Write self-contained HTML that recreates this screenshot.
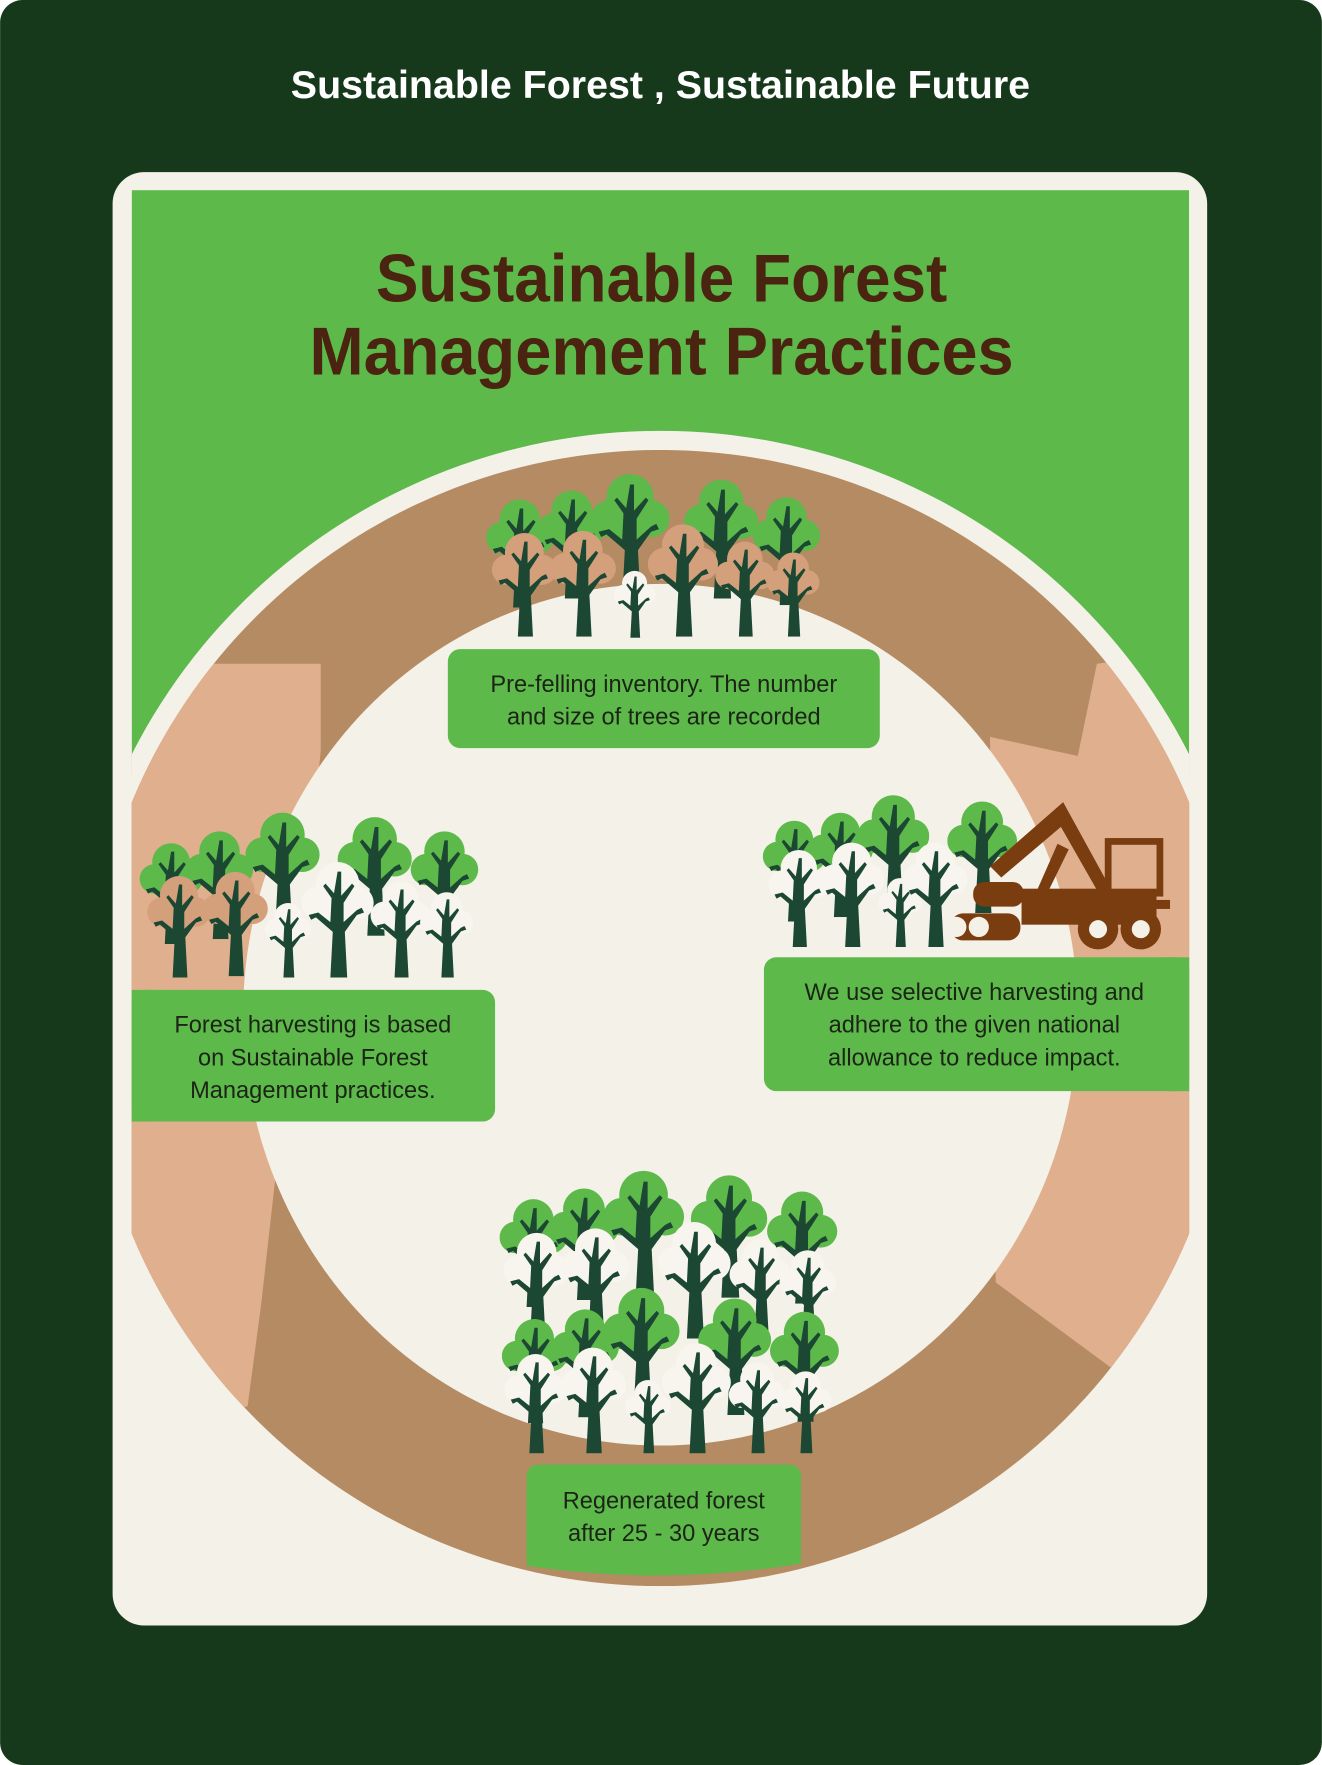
<!DOCTYPE html>
<html><head><meta charset="utf-8"><style>
html,body{margin:0;padding:0;background:#fff;}
svg{display:block;}
text{font-family:"Liberation Sans",sans-serif;}
</style></head><body>
<svg width="1322" height="1765" viewBox="0 0 1175 1569" xmlns="http://www.w3.org/2000/svg">
<defs>
  <symbol id="trunk" viewBox="0 0 60 100">
    <path d="M24 100 L26 62 L12 50 L8 52 L6 48 L14 46 L24 54 L25 34 L18 24 L20 22 L27 30 L30 12 L33 12 L33 32 L42 22 L44 24 L35 38 L35 54 L46 44 L50 42 L52 46 L46 48 L36 62 L38 100 Z" fill="#1b4733"/>
  </symbol>
  <symbol id="tg" viewBox="0 0 60 100">
    <circle cx="30" cy="22" r="18" fill="#5cb94a"/><circle cx="14" cy="38" r="14" fill="#5cb94a"/><circle cx="46" cy="38" r="14" fill="#5cb94a"/><circle cx="30" cy="45" r="15" fill="#5cb94a"/>
    <use href="#trunk" x="0" y="0" width="60" height="100"/>
  </symbol>
  <symbol id="tb" viewBox="0 0 60 100">
    <circle cx="30" cy="22" r="18" fill="#d4a07c"/><circle cx="14" cy="38" r="14" fill="#d4a07c"/><circle cx="46" cy="38" r="14" fill="#d4a07c"/><circle cx="30" cy="45" r="15" fill="#d4a07c"/>
    <use href="#trunk" x="0" y="0" width="60" height="100"/>
  </symbol>
  <symbol id="tw" viewBox="0 0 60 100">
    <circle cx="30" cy="22" r="18" fill="#f7f5ee"/><circle cx="14" cy="38" r="14" fill="#f7f5ee"/><circle cx="46" cy="38" r="14" fill="#f7f5ee"/><circle cx="30" cy="45" r="15" fill="#f7f5ee"/>
    <use href="#trunk" x="0" y="0" width="60" height="100"/>
  </symbol>
  <clipPath id="card"><rect x="117" y="169" width="940" height="1260"/></clipPath>
  <clipPath id="ring"><path fill-rule="evenodd" d="M79 905 A508 505 0 1 0 1095 905 A508 505 0 1 0 79 905 Z M216 902 A371 383 0 1 0 958 902 A371 383 0 1 0 216 902 Z"/></clipPath>
</defs>
<rect x="0" y="0" width="1175" height="1569" rx="20" fill="#17391b"/>
<text x="587" y="87" font-size="35" font-weight="bold" fill="#fff" text-anchor="middle">Sustainable Forest , Sustainable Future</text>
<rect x="100" y="153" width="973" height="1292" rx="28" fill="#f4f1e8"/>
<g clip-path="url(#card)">
  <rect x="117" y="169" width="940" height="520" fill="#5cb94a"/>
  <ellipse cx="587" cy="905" rx="526" ry="522" fill="#f4f1e8"/>
  <g clip-path="url(#ring)">
    <rect x="0" y="300" width="1175" height="1200" fill="#b58b64"/>
    <polygon points="60,590 285,590 285,668 250,1000 232,1160 220,1250 60,1300" fill="#e0b08e"/>
    <polygon points="975,590 958,672 880,655 885,1140 1000,1225 1200,1225 1200,560" fill="#e0b08e"/>
  </g>
  <ellipse cx="587" cy="902" rx="371" ry="383" fill="#f4f1e8"/>
</g>
<text x="588" y="268" font-size="60" font-weight="bold" fill="#4a2410" text-anchor="middle" textLength="508" lengthAdjust="spacingAndGlyphs">Sustainable  Forest</text>
<text x="588" y="333" font-size="60" font-weight="bold" fill="#4a2410" text-anchor="middle" textLength="626" lengthAdjust="spacingAndGlyphs">Management  Practices</text>

<!-- top trees -->
<g>
  <use href="#tg" x="432" y="440" width="60" height="100"/>
  <use href="#tg" x="478" y="432" width="60" height="100"/>
  <use href="#tg" x="525" y="415" width="70" height="120"/>
  <use href="#tg" x="608" y="422" width="66" height="110"/>
  <use href="#tg" x="668" y="438" width="62" height="100"/>
  <use href="#tb" x="436" y="470" width="60" height="96"/>
  <use href="#tb" x="488" y="468" width="60" height="98"/>
  <use href="#tw" x="540" y="505" width="48" height="62"/>
  <use href="#tb" x="572" y="462" width="70" height="104"/>
  <use href="#tb" x="635" y="478" width="54" height="88"/>
  <use href="#tb" x="680" y="488" width="50" height="78"/>
</g>
<rect x="398" y="577" width="384" height="88" rx="11" fill="#5cb94a"/>
<text x="590" y="615" font-size="21" fill="#1c2416" text-anchor="middle">Pre-felling inventory. The number</text>
<text x="590" y="644" font-size="21" fill="#1c2416" text-anchor="middle">and size of trees are recorded</text>

<!-- left trees -->
<g>
  <use href="#tg" x="124" y="745" width="56" height="95"/>
  <use href="#tg" x="165" y="735" width="60" height="100"/>
  <use href="#tg" x="218" y="718" width="66" height="110"/>
  <use href="#tg" x="300" y="722" width="66" height="110"/>
  <use href="#tg" x="364" y="735" width="62" height="100"/>
  <use href="#tb" x="128" y="775" width="62" height="94"/>
  <use href="#tb" x="180" y="770" width="58" height="99"/>
  <use href="#tw" x="232" y="800" width="48" height="69"/>
  <use href="#tw" x="265" y="762" width="70" height="107"/>
  <use href="#tw" x="328" y="780" width="56" height="89"/>
  <use href="#tw" x="372" y="790" width="50" height="79"/>
</g>
<rect x="117" y="880" width="323" height="117" rx="11" fill="#5cb94a"/>
<rect x="117" y="880" width="20" height="117" fill="#5cb94a"/>
<text x="278" y="918" font-size="21" fill="#1c2416" text-anchor="middle">Forest harvesting is based</text>
<text x="278" y="947" font-size="21" fill="#1c2416" text-anchor="middle">on Sustainable Forest</text>
<text x="278" y="976" font-size="21" fill="#1c2416" text-anchor="middle">Management practices.</text>

<!-- right trees + harvester -->
<g>
  <use href="#tg" x="678" y="725" width="56" height="95"/>
  <use href="#tg" x="718" y="718" width="58" height="98"/>
  <use href="#tg" x="762" y="702" width="64" height="108"/>
  <use href="#tg" x="842" y="708" width="62" height="104"/>
  <use href="#tw" x="680" y="752" width="60" height="90"/>
  <use href="#tw" x="728" y="745" width="58" height="97"/>
  <use href="#tw" x="778" y="778" width="44" height="64"/>
  <use href="#tw" x="802" y="745" width="58" height="97"/>
</g>
<g fill="#7a3d10">
  <rect x="908" y="790" width="120" height="32"/>
  <rect x="985" y="748" width="46" height="46" fill="none" stroke="#7a3d10" stroke-width="6"/>
  <path d="M880 770 L945 713 L990 795 L980 800 L943 735 L890 780 Z"/>
  <path d="M940 750 L918 800 L926 804 L950 755 Z"/>
  <rect x="865" y="784" width="45" height="22" rx="10"/>
  <rect x="845" y="812" width="62" height="24" rx="11"/>
  <circle cx="850" cy="824" r="9" fill="#f4f1e8"/>
  <circle cx="870" cy="824" r="9" fill="#f4f1e8"/>
  <circle cx="976" cy="826" r="18"/><circle cx="976" cy="826" r="8" fill="#f4f1e8"/>
  <circle cx="1014" cy="826" r="18"/><circle cx="1014" cy="826" r="8" fill="#f4f1e8"/>
  <rect x="1020" y="800" width="20" height="8"/>
</g>
<rect x="679" y="851" width="378" height="119" rx="11" fill="#5cb94a"/>
<rect x="1037" y="851" width="20" height="119" fill="#5cb94a"/>
<text x="866" y="889" font-size="21" fill="#1c2416" text-anchor="middle">We use selective harvesting and</text>
<text x="866" y="918" font-size="21" fill="#1c2416" text-anchor="middle">adhere to the given national</text>
<text x="866" y="947" font-size="21" fill="#1c2416" text-anchor="middle">allowance to reduce impact.</text>

<!-- bottom forest -->
<g>
  <use href="#tg" x="444" y="1062" width="60" height="100"/>
  <use href="#tg" x="488" y="1052" width="62" height="104"/>
  <use href="#tg" x="536" y="1036" width="72" height="120"/>
  <use href="#tg" x="614" y="1040" width="68" height="114"/>
  <use href="#tg" x="680" y="1055" width="66" height="104"/>
  <use href="#tw" x="446" y="1092" width="62" height="98"/>
  <use href="#tw" x="498" y="1088" width="62" height="100"/>
  <use href="#tw" x="582" y="1082" width="70" height="108"/>
  <use href="#tw" x="648" y="1098" width="56" height="92"/>
  <use href="#tw" x="692" y="1108" width="52" height="84"/>
  <use href="#tg" x="446" y="1168" width="58" height="98"/>
  <use href="#tg" x="490" y="1160" width="60" height="100"/>
  <use href="#tg" x="536" y="1140" width="68" height="114"/>
  <use href="#tg" x="620" y="1150" width="66" height="108"/>
  <use href="#tg" x="684" y="1162" width="62" height="102"/>
  <use href="#tw" x="446" y="1200" width="60" height="92"/>
  <use href="#tw" x="496" y="1194" width="62" height="98"/>
  <use href="#tw" x="552" y="1224" width="48" height="68"/>
  <use href="#tw" x="584" y="1190" width="70" height="102"/>
  <use href="#tw" x="646" y="1208" width="54" height="84"/>
  <use href="#tw" x="690" y="1216" width="52" height="76"/>
</g>
<path d="M478 1302 H702 A10 10 0 0 1 712 1312 V1390 Q590 1410 468 1392 V1312 A10 10 0 0 1 478 1302 Z" fill="#5cb94a"/>
<text x="590" y="1341" font-size="21" fill="#1c2416" text-anchor="middle">Regenerated forest</text>
<text x="590" y="1370" font-size="21" fill="#1c2416" text-anchor="middle">after 25 - 30 years</text>
</svg>
</body></html>
